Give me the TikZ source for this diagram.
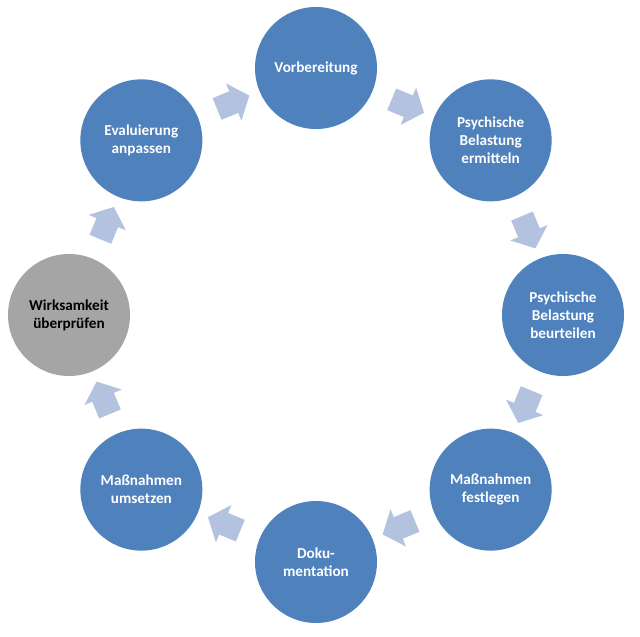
\documentclass[tikz,border=0pt]{standalone}
\usepackage{fontspec}
\setmainfont{Carlito}
\usetikzlibrary{shapes.arrows,calc}
\definecolor{cblue}{HTML}{4F81BD}
\definecolor{cgray}{HTML}{A5A5A5}
\definecolor{carrow}{HTML}{B3C3DF}
\begin{document}
\begin{tikzpicture}[x=1pt,y=1pt,
  stage/.style={circle, fill=cblue, minimum size=122pt, inner sep=0pt, text=white,
    font=\fontsize{15.2}{18}\selectfont\bfseries, align=center},
  graystage/.style={stage, fill=cgray, text=black},
  blockarrow/.style={single arrow, fill=carrow, draw=none, minimum height=35pt,
    single arrow head extend=8.5pt, single arrow tip angle=100,
    inner xsep=0pt, inner ysep=11.5pt, sloped, allow upside down}
]
\useasboundingbox (0,0) rectangle (640,637);
\coordinate (c) at (316,322);
\node[stage]     (n0) at ($(c)+(90:247)$)   {Vorbereitung};
\node[stage]     (n1) at ($(c)+(45:247)$)   {Psychische\\Belastung\\ermitteln};
\node[stage]     (n2) at ($(c)+(0:247)$)    {Psychische\\Belastung\\beurteilen};
\node[stage]     (n3) at ($(c)+(-45:247)$)  {Maßnahmen\\festlegen};
\node[stage]     (n4) at ($(c)+(-90:247)$)  {Doku-\\mentation};
\node[stage]     (n5) at ($(c)+(-135:247)$) {Maßnahmen\\umsetzen};
\node[graystage] (n6) at ($(c)+(180:247)$)  {Wirksamkeit\\überprüfen};
\node[stage]     (n7) at ($(c)+(135:247)$)  {Evaluierung\\anpassen};
\path (n0.center) -- node[blockarrow] (a01) {} (n1.center);
\path (n1.center) -- node[blockarrow] (a12) {} (n2.center);
\path (n2.center) -- node[blockarrow] (a23) {} (n3.center);
\path (n3.center) -- node[blockarrow] (a34) {} (n4.center);
\path (n4.center) -- node[blockarrow] (a45) {} (n5.center);
\path (n5.center) -- node[blockarrow] (a56) {} (n6.center);
\path (n6.center) -- node[blockarrow] (a67) {} (n7.center);
\path (n7.center) -- node[blockarrow] (a70) {} (n0.center);
\end{tikzpicture}
\end{document}
